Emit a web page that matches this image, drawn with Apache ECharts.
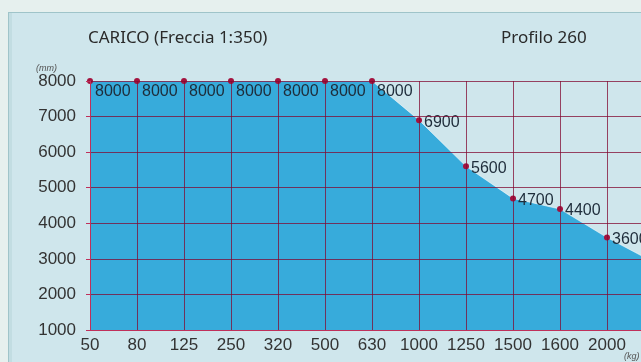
<!DOCTYPE html>
<html lang="it" style="height: 100%">
<head>
  <meta charset="utf-8">
  <title>CARICO (Freccia 1:350) - Profilo 260</title>
</head>
<body style="height: 100%; margin: 0; background: #e6f0ee">
  <div style="position: absolute; left: 8px; top: 12px; width: 640px; height: 360px; background: #cfe6ec; border-left: 1px solid #9fc4c9; border-top: 1px solid #9fc4c9; box-shadow: inset 3px 0 0 #c2dde2;"></div>
  <div id="container" style="position: absolute; left: 0; top: 0; width: 641px; height: 362px"></div>
  <script src="https://cdn.jsdelivr.net/npm/echarts@6/dist/echarts.min.js"></script>
  <script>
    // portata (kg) sull'asse x, altezza di sollevamento (mm) sull'asse y
    var pesi = ['50', '80', '125', '250', '320', '500', '630', '1000', '1250', '1500', '1600', '2000', '2500'];
    var altezze = [8000, 8000, 8000, 8000, 8000, 8000, 8000, 6900, 5600, 4700, 4400, 3600, 2900];
    var yTicks = [1000, 8000, 1000]; // min, max, passo

    var dom = document.getElementById('container');
    var myChart = echarts.init(dom, null, { renderer: 'canvas' });

    var griglia = 'rgba(130,10,50,0.75)';

    var punti = altezze.map(function (v) {
      return {
        value: v,
        label: { offset: v === 8000 ? [0, 11] : [0, 2] }
      };
    });

    var option = {
      backgroundColor: 'transparent',
      animation: false,
      textStyle: { fontFamily: 'Liberation Sans' },
      graphic: [
        {
          type: 'text', left: 88, top: 30,
          style: { text: 'CARICO (Freccia 1:350)', fill: '#2a2a2a', font: '17px "Noto Sans"' }
        },
        {
          type: 'text', left: 501, top: 30,
          style: { text: 'Profilo 260', fill: '#2a2a2a', font: '17px "Noto Sans"' }
        },
        {
          type: 'text', left: 36, top: 64,
          style: { text: '(mm)', fill: '#555', font: 'italic 9px "Liberation Sans"' }
        },
        {
          type: 'text', left: 624, top: 352,
          style: { text: '(kg)', fill: '#555', font: 'italic 9px "Liberation Sans"' }
        }
      ],
      grid: { left: 90, width: 564, top: 81, bottom: 32, outerBoundsMode: 'none', containLabel: false },
      xAxis: {
        type: 'category',
        data: pesi,
        boundaryGap: false,
        axisLine: { lineStyle: { color: '#c0305a', width: 1 } },
        axisTick: { show: false },
        axisLabel: {
          color: '#333', fontSize: 17, margin: 7, interval: 0,
          formatter: function (v, i) { return i === pesi.length - 1 ? '' : v; }
        },
        splitLine: { show: true, interval: 0, lineStyle: { color: griglia, width: 1 } }
      },
      yAxis: {
        type: 'value',
        min: yTicks[0],
        max: yTicks[1],
        interval: yTicks[2],
        axisLine: { show: true, lineStyle: { color: '#c0305a', width: 1 } },
        axisTick: { show: true, length: 4, lineStyle: { color: '#c0305a' } },
        axisLabel: { color: '#333', fontSize: 17, margin: 14, formatter: function (v) { return String(v); } },
        splitLine: { show: true, lineStyle: { color: griglia, width: 1 } }
      },
      series: [
        {
          type: 'line',
          z: -1,
          data: punti,
          symbol: 'circle',
          symbolSize: 6,
          itemStyle: { color: '#a3123e' },
          lineStyle: { color: 'rgba(255,255,255,0.55)', width: 1 },
          areaStyle: { color: '#37abdb', opacity: 1 },
          label: {
            show: true,
            position: 'right',
            distance: 2,
            color: '#1e2c3a',
            fontSize: 16
          }
        }
      ]
    };

    myChart.setOption(option);
    window.addEventListener('resize', myChart.resize);
  </script>
</body>
</html>
